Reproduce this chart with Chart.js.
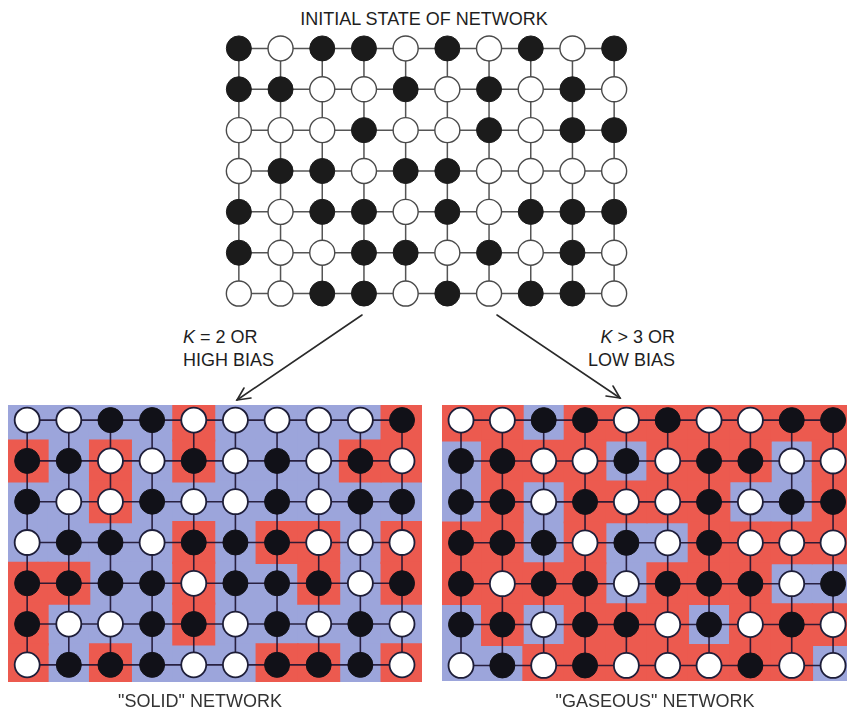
<!DOCTYPE html>
<html lang="en">
<head>
  <meta charset="UTF-8" />
  <title>Network states</title>
  <script src="https://cdn.jsdelivr.net/npm/chart.js"></script>
  <style>
    html, body {
      margin: 0;
      padding: 0;
      background: #fff;
    }
    #page {
      position: relative;
      width: 847px;
      height: 710px;
      overflow: hidden;
      font-family: "Liberation Sans", Arial, sans-serif;
      color: #1e1e1e;
    }
    canvas {
      position: absolute;
      display: block;
    }
    .label {
      position: absolute;
      font-size: 18px;
      line-height: 20px;
      white-space: nowrap;
    }
    .center {
      transform: translateX(-50%);
    }
    .arrow-label {
      line-height: 23px;
    }
    svg {
      position: absolute;
      left: 0;
      top: 0;
    }
  </style>
</head>
<body>
  <div id="page">
    <div class="label center" style="left:424px; top:9px;">INITIAL STATE OF NETWORK</div>

    <canvas id="topGrid" width="417" height="286" style="left:218px; top:28px;"></canvas>
    <canvas id="solidGrid" width="414" height="277" style="left:8px; top:405px;"></canvas>
    <canvas id="gasGrid" width="420" height="276" style="left:442px; top:405px;"></canvas>

    <div class="label arrow-label" style="left:183px; top:326px;"><i>K</i> = 2 OR<br>HIGH BIAS</div>
    <div class="label arrow-label" style="right:172px; top:326px; text-align:right;"><i>K</i> &gt; 3 OR<br>LOW BIAS</div>

    <svg width="847" height="710">
      <g stroke="#2a2a2a" stroke-width="1.6" fill="none" stroke-linecap="round">
        <line x1="362" y1="315" x2="237" y2="400" />
        <polyline points="251,398 237,400 244,388" />
        <line x1="497" y1="315" x2="620" y2="398" />
        <polyline points="613,386 620,398 606,396" />
      </g>
    </svg>

    <div class="label center" style="left:200px; top:691px; color:#333;">"SOLID" NETWORK</div>
    <div class="label center" style="left:655px; top:691px; color:#333;">"GASEOUS" NETWORK</div>
  </div>

  <script>
    // 1 = black node, 0 = white node (rows top to bottom)
    const initialState = [
      [1,0,1,1,0,1,0,1,0,1],
      [1,1,0,0,1,0,1,0,1,0],
      [0,0,0,1,0,0,1,0,1,1],
      [0,1,1,0,1,1,0,0,0,0],
      [1,0,1,1,0,1,0,1,1,1],
      [1,0,0,1,1,0,1,0,1,0],
      [0,0,1,1,0,1,0,1,1,0]
    ];

    const solidState = [
      [0,0,1,1,0,0,0,0,0,1],
      [1,1,0,0,1,0,1,0,1,0],
      [1,0,0,1,0,0,1,0,1,1],
      [0,1,1,0,1,1,1,0,0,0],
      [1,1,1,1,0,1,1,1,0,1],
      [1,0,0,1,1,0,1,0,1,0],
      [0,1,1,1,0,0,1,1,1,0]
    ];

    // 1 = red cell, 0 = blue cell
    const solidRegions = [
      [0,0,0,0,1,0,0,0,0,1],
      [1,0,1,0,1,0,0,0,1,1],
      [0,0,1,0,0,0,0,0,0,0],
      [0,0,0,0,1,0,1,1,0,1],
      [1,1,0,0,1,0,0,1,0,1],
      [1,0,0,0,1,0,0,0,0,0],
      [1,0,1,0,0,0,1,1,0,1]
    ];

    const gasState = [
      [0,0,1,1,0,1,0,0,1,1],
      [1,1,0,0,1,0,1,1,0,0],
      [1,1,0,1,0,0,1,0,1,1],
      [1,1,1,0,1,0,1,0,0,0],
      [1,0,1,1,0,1,1,1,0,1],
      [1,1,0,1,1,0,1,0,1,0],
      [0,1,0,1,0,0,0,1,0,0]
    ];

    const gasRegions = [
      [1,1,0,1,1,1,1,1,1,1],
      [0,1,1,1,0,1,1,1,0,1],
      [0,1,0,1,1,1,1,0,0,1],
      [1,1,0,1,0,0,1,1,1,1],
      [1,1,1,1,0,1,1,1,0,0],
      [0,1,0,1,1,1,0,1,1,1],
      [0,0,1,1,1,1,1,1,1,0]
    ];

    const RED = '#ec5a4f';
    const BLUE = '#9ca5db';

    function cellsWhere(grid, value) {
      const pts = [];
      grid.forEach((row, r) => row.forEach((v, c) => {
        if (v === value) pts.push({ x: c, y: r });
      }));
      return pts;
    }

    function cellRadius(ctx) {
      const s = ctx.chart.scales;
      const w = Math.abs(s.x.getPixelForValue(1) - s.x.getPixelForValue(0));
      const h = Math.abs(s.y.getPixelForValue(1) - s.y.getPixelForValue(0));
      // rect point side = radius * sqrt(2)
      return Math.max(w, h) * 0.73;
    }

    function makeGrid(id, state, regions, look, range) {
      const rows = state.length;
      const cols = state[0].length;
      const datasets = [];

      datasets.push({
        label: 'black',
        data: cellsWhere(state, 1),
        pointStyle: 'circle',
        pointRadius: 12.5,
        backgroundColor: look.black,
        borderColor: look.black,
        borderWidth: 1,
        order: 0
      });
      datasets.push({
        label: 'white',
        data: cellsWhere(state, 0),
        pointStyle: 'circle',
        pointRadius: 12.5,
        backgroundColor: '#ffffff',
        borderColor: look.ring,
        borderWidth: look.ringWidth,
        order: 0
      });

      for (let r = 0; r < rows; r++) {
        datasets.push({
          data: state[r].map((_, c) => ({ x: c, y: r })),
          showLine: true,
          pointRadius: 0,
          borderColor: look.line,
          borderWidth: look.lineWidth,
          order: 1
        });
      }
      for (let c = 0; c < cols; c++) {
        datasets.push({
          data: state.map((_, r) => ({ x: c, y: r })),
          showLine: true,
          pointRadius: 0,
          borderColor: look.line,
          borderWidth: look.lineWidth,
          order: 1
        });
      }

      if (regions) {
        datasets.push({
          label: 'red',
          data: cellsWhere(regions, 1),
          pointStyle: 'rect',
          pointRadius: cellRadius,
          backgroundColor: RED,
          borderWidth: 0,
          order: 2
        });
        datasets.push({
          label: 'blue',
          data: cellsWhere(regions, 0),
          pointStyle: 'rect',
          pointRadius: cellRadius,
          backgroundColor: BLUE,
          borderWidth: 0,
          order: 3
        });
      }

      return new Chart(document.getElementById(id), {
        type: 'scatter',
        data: { datasets },
        options: {
          responsive: false,
          animation: false,
          events: [],
          layout: { padding: 0, autoPadding: false },
          plugins: { legend: { display: false }, tooltip: { enabled: false } },
          scales: {
            x: { type: 'linear', display: false, min: range.xMin, max: range.xMax },
            y: { type: 'linear', display: false, reverse: true, min: range.yMin, max: range.yMax }
          }
        }
      });
    }

    const plainLook = { black: '#1b1b1b', ring: '#4a4a4a', ringWidth: 1.4, line: '#555555', lineWidth: 1.5 };
    const colourLook = { black: '#111118', ring: '#1d1d38', ringWidth: 1.8, line: 'rgba(28,18,48,0.9)', lineWidth: 1.6 };

    makeGrid('topGrid', initialState, null, plainLook,
      { xMin: -0.5, xMax: 9.5, yMin: -0.5, yMax: 6.5 });
    makeGrid('solidGrid', solidState, solidRegions, colourLook,
      { xMin: -0.46, xMax: 9.48, yMin: -0.37, yMax: 6.42 });
    makeGrid('gasGrid', gasState, gasRegions, colourLook,
      { xMin: -0.46, xMax: 9.7, yMin: -0.37, yMax: 6.38 });
  </script>
</body>
</html>
